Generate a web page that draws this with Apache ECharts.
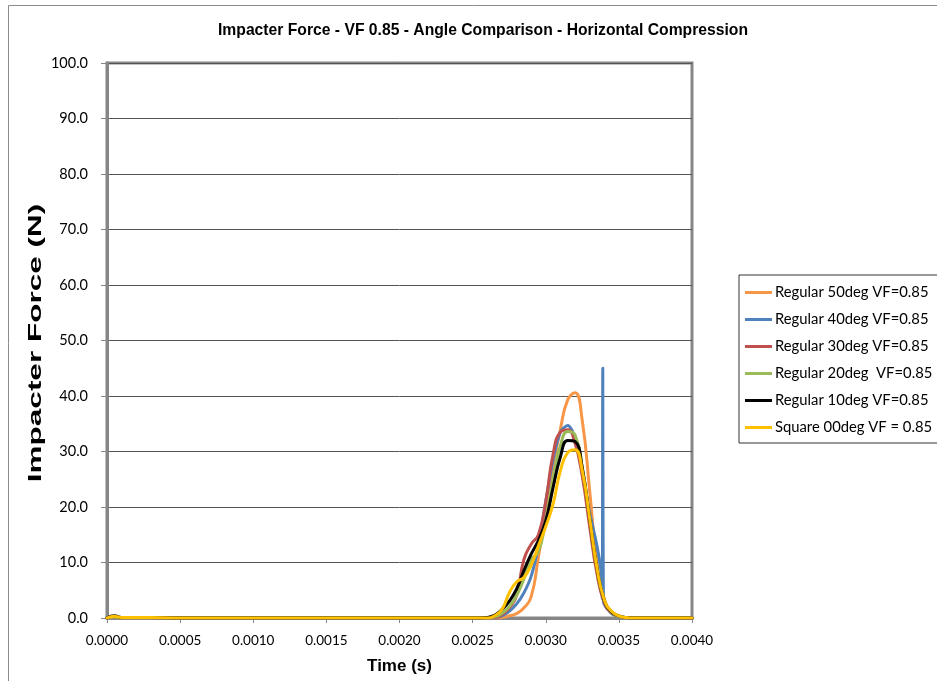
<!DOCTYPE html>
<html>
<head>
<meta charset="utf-8">
<title>Impacter Force - VF 0.85 - Angle Comparison</title>
<script src="https://cdn.jsdelivr.net/npm/echarts@6/dist/echarts.min.js"></script>
<style>
  html, body { margin: 0; padding: 0; background: #fff; }
  #chart { width: 937px; height: 681px; }
</style>
</head>
<body>
<div id="chart"></div>
<script>
// Time samples (s) shared by the smooth force traces
const TIME = [0, 0.00005, 0.0001, 0.0003, 0.0005, 0.0010, 0.0015, 0.0020, 0.0025,
  0.0026, 0.00265, 0.0027, 0.00275, 0.0028, 0.00285, 0.0029, 0.00295, 0.0030,
  0.00305, 0.0031, 0.00315, 0.0032, 0.00325, 0.0033, 0.00335, 0.0034, 0.00345,
  0.0035, 0.00355, 0.0036, 0.0037, 0.0038, 0.0039, 0.0040];

// Impacter force (N) per lattice angle
const F_REG50 = [0, 0.1, 0, 0, 0, 0, 0, 0, 0,
  0, 0, 0.1, 0.4, 0.8, 1.8, 3.8, 11, 19,
  27, 34, 39.3, 40.6, 35.5, 23, 10, 3.5, 1,
  0.3, 0, 0, 0, 0, 0, 0];
const F_REG30 = [0, 0.2, 0, 0, 0, 0, 0, 0, 0,
  0, 0.1, 0.6, 1.8, 4, 10.5, 13.3, 15, 21,
  29.5, 33.5, 33.9, 31.5, 25.5, 16.5, 8, 2.8, 0.9,
  0.3, 0, 0, 0, 0, 0, 0];
const F_REG20 = [0, 0.2, 0, 0, 0, 0, 0, 0, 0,
  0, 0.2, 0.8, 2, 4, 7, 10.5, 12, 17.5,
  25, 31, 33.6, 33, 27, 18, 9, 3.2, 1,
  0.3, 0, 0, 0, 0, 0, 0];
const F_REG10 = [0, 0.4, 0.1, 0.1, 0, 0, 0, 0, 0,
  0.1, 0.5, 1.5, 3, 5.2, 8.5, 11.5, 14, 17.5,
  23.5, 29, 32, 31.8, 27, 18, 9, 3.2, 1.1,
  0.4, 0.1, 0, 0, 0, 0, 0];
const F_SQ00 = [0, 0.3, 0.1, 0.1, 0, 0, 0, 0, 0,
  0, 0.4, 1.5, 4.5, 6.5, 7.3, 9.5, 13, 16.5,
  20.5, 26.5, 29.8, 30.3, 26.5, 18, 9, 3.3, 1.2,
  0.4, 0.1, 0, 0, 0, 0, 0];

// 40deg trace carries its own samples (includes the spike near 0.00339 s)
const TIME_REG40 = [0, 0.00005, 0.0001, 0.0005, 0.0010, 0.0015, 0.0020, 0.0025,
  0.0026, 0.00265, 0.0027, 0.00275, 0.0028, 0.00285, 0.0029, 0.00295, 0.0030,
  0.00305, 0.0031, 0.00315, 0.0032, 0.00325, 0.0033, 0.00335, 0.00338, 0.003386,
  0.00339, 0.003394, 0.00345, 0.0035, 0.00355, 0.0036, 0.0040];
const F_REG40 = [0, 0.2, 0, 0, 0, 0, 0, 0,
  0, 0.1, 0.4, 1.2, 2.5, 4.5, 7.5, 13, 21,
  28.5, 33.5, 34.7, 32.5, 26, 19, 13, 8, 3.5,
  45, 3, 0.8, 0.2, 0, 0, 0];

const SERIES_NAMES = [
  'Regular 50deg VF=0.85',
  'Regular 40deg VF=0.85',
  'Regular 30deg VF=0.85',
  'Regular 20deg  VF=0.85',
  'Regular 10deg VF=0.85',
  'Square 00deg VF = 0.85'
];
const SERIES_COLORS = ['#F79646', '#4F81BD', '#C0504D', '#9BBB59', '#000000', '#FFC000'];

const X_TICKS = { min: 0, max: 0.004, step: 0.0005 };
const Y_TICKS = { min: 0, max: 100, step: 10 };

const Y_TITLE = 'Impacter Force (N)';
const X_TITLE = 'Time (s)';

function pairs(ts, fs) { return ts.map((t, i) => [t, fs[i]]); }

const seriesData = [
  pairs(TIME, F_REG50),
  pairs(TIME_REG40, F_REG40),
  pairs(TIME, F_REG30),
  pairs(TIME, F_REG20),
  pairs(TIME, F_REG10),
  pairs(TIME, F_SQ00)
];

const chart = echarts.init(document.getElementById('chart'), null, { renderer: 'canvas' });

const labelFont = 'Lato, "Open Sans", sans-serif';
const boldFont = '"Liberation Sans", Arial, sans-serif';

chart.setOption({
  animation: false,
  backgroundColor: '#ffffff',
  title: {
    text: 'Impacter Force - VF 0.85 - Angle Comparison - Horizontal Compression',
    left: 478, top: 18, textAlign: 'center',
    textStyle: { fontFamily: boldFont, fontWeight: 'bold', fontSize: 15.7, color: '#000' }
  },
  graphic: [{
    type: 'rect', silent: true, z: -1,
    shape: { x: 8.5, y: 5.5, width: 1000, height: 1000 },
    style: { fill: 'none', stroke: '#8c8c8c', lineWidth: 1 }
  }, {
    // vertical axis title, drawn elongated along its reading direction
    type: 'text', silent: true,
    x: 36, y: 343,
    rotation: Math.PI / 2,
    scaleX: 1.75,
    style: {
      text: Y_TITLE,
      font: 'bold 18px "Liberation Sans", Arial, sans-serif',
      fill: '#000',
      align: 'center',
      verticalAlign: 'middle'
    }
  }],
  legend: {
    orient: 'vertical',
    left: 739, top: 275,
    padding: [10, 30, 8, 6],
    itemGap: 12,
    itemWidth: 27, itemHeight: 3,
    icon: 'rect',
    borderColor: '#333', borderWidth: 1,
    textStyle: { fontFamily: labelFont, fontSize: 14.8, color: '#000', padding: [0, 0, 0, -2] },
    data: SERIES_NAMES
  },
  grid: {
    left: 107, top: 63, width: 585, height: 555,
    show: true, borderColor: '#868686', borderWidth: 3, backgroundColor: '#fff',
    containLabel: false
  },
  xAxis: {
    type: 'value',
    min: X_TICKS.min, max: X_TICKS.max, interval: X_TICKS.step,
    name: X_TITLE, nameLocation: 'middle', nameGap: 40,
    nameTextStyle: { fontFamily: boldFont, fontWeight: 'bold', fontSize: 17, color: '#000' },
    axisLine: { show: true, lineStyle: { color: '#868686', width: 3 } },
    axisTick: { show: true, length: 5, lineStyle: { color: '#868686', width: 1 } },
    axisLabel: { fontFamily: labelFont, fontSize: 13.5, color: '#000', margin: 16,
      formatter: v => v.toFixed(4) },
    splitLine: { show: false }
  },
  yAxis: {
    type: 'value',
    min: Y_TICKS.min, max: Y_TICKS.max, interval: Y_TICKS.step,
    axisLine: { show: true, lineStyle: { color: '#868686', width: 3 } },
    axisTick: { show: true, length: 6, lineStyle: { color: '#868686', width: 1 } },
    axisLabel: { fontFamily: labelFont, fontSize: 14.5, color: '#000', margin: 19,
      formatter: v => v.toFixed(1) },
    splitLine: { show: true, lineStyle: { color: '#555', width: 1 } }
  },
  series: SERIES_NAMES.map((name, i) => ({
    name: name,
    type: 'line',
    data: seriesData[i],
    smooth: i === 1 ? 0.3 : 0.5,
    showSymbol: false,
    symbol: 'none',
    z: 2 + i,
    color: SERIES_COLORS[i],
    lineStyle: { color: SERIES_COLORS[i], width: 3, cap: 'round', join: 'round' }
  }))
});
</script>
</body>
</html>
